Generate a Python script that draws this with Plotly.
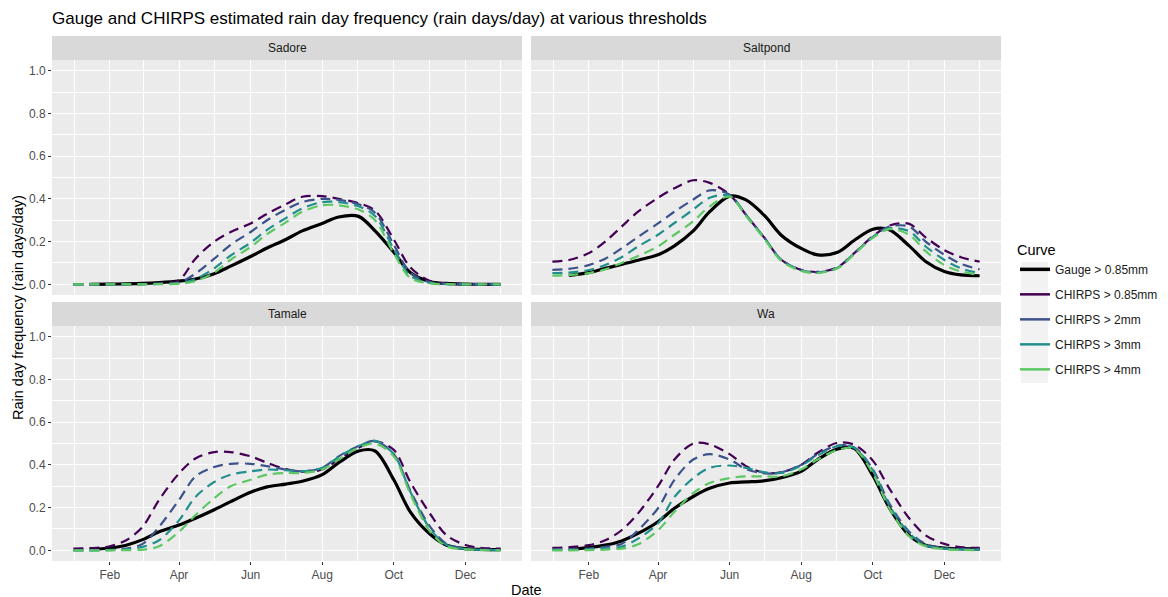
import plotly.graph_objects as go

# The page body has an 8px margin, so the figure is drawn 8px lower/right than the window origin.
OFF = 8
W, H = 1168 - OFF, 597 - OFF

# ---------------- data ----------------
chirps_dates = ["2001-01-01", "2001-01-15", "2001-02-01", "2001-02-15", "2001-03-01", "2001-03-15",
                "2001-04-01", "2001-04-15", "2001-05-01", "2001-05-15", "2001-06-01", "2001-06-15",
                "2001-07-01", "2001-07-15", "2001-08-01", "2001-08-15", "2001-09-01", "2001-09-15",
                "2001-10-01", "2001-10-15", "2001-11-01", "2001-11-15", "2001-12-01", "2001-12-15",
                "2001-12-31"]
gauge_dates = chirps_dates[1:]

stations = ["Sadore", "Saltpond", "Tamale", "Wa"]
curves = ["Gauge > 0.85mm", "CHIRPS > 0.85mm", "CHIRPS > 2mm", "CHIRPS > 3mm", "CHIRPS > 4mm"]

# Sadore
sadore_gauge = [0, 0.001, 0.002, 0.004, 0.008, 0.015, 0.025, 0.05, 0.085, 0.13, 0.17, 0.21, 0.25,
                0.285, 0.315, 0.318, 0.25, 0.15, 0.055, 0.012, 0.004, 0.001, 0, 0]
sadore_c085 = [0, 0, 0, 0, 0.002, 0.005, 0.02, 0.12, 0.2, 0.245, 0.285, 0.33, 0.375, 0.41, 0.413,
               0.4, 0.38, 0.345, 0.21, 0.08, 0.015, 0.003, 0.001, 0, 0]
sadore_c2 = [0, 0, 0, 0, 0.001, 0.003, 0.008, 0.05, 0.12, 0.185, 0.245, 0.3, 0.35, 0.385, 0.4,
             0.395, 0.375, 0.335, 0.185, 0.055, 0.01, 0.002, 0, 0, 0]
sadore_c3 = [0, 0, 0, 0, 0, 0.002, 0.005, 0.025, 0.075, 0.135, 0.195, 0.255, 0.31, 0.355, 0.385,
             0.385, 0.365, 0.32, 0.165, 0.04, 0.006, 0.001, 0, 0, 0]
sadore_c4 = [0, 0, 0, 0, 0, 0.001, 0.003, 0.015, 0.055, 0.115, 0.175, 0.235, 0.29, 0.34, 0.37,
             0.37, 0.35, 0.30, 0.145, 0.03, 0.004, 0.001, 0, 0, 0]

# Saltpond
saltpond_gauge = [0.042, 0.055, 0.075, 0.093, 0.113, 0.138, 0.18, 0.25, 0.34, 0.413, 0.395, 0.32,
                  0.23, 0.168, 0.138, 0.15, 0.205, 0.258, 0.255, 0.18, 0.107, 0.06, 0.044, 0.04]
saltpond_c085 = [0.106, 0.114, 0.146, 0.2, 0.27, 0.34, 0.405, 0.45, 0.487, 0.475, 0.42, 0.325,
                 0.215, 0.115, 0.068, 0.058, 0.08, 0.145, 0.225, 0.275, 0.283, 0.22, 0.16, 0.127, 0.106]
saltpond_c2 = [0.068, 0.072, 0.09, 0.12, 0.168, 0.222, 0.285, 0.34, 0.397, 0.44, 0.42, 0.325,
               0.215, 0.115, 0.066, 0.056, 0.078, 0.143, 0.222, 0.27, 0.27, 0.2, 0.138, 0.096, 0.07]
saltpond_c3 = [0.052, 0.055, 0.067, 0.09, 0.127, 0.177, 0.232, 0.287, 0.35, 0.405, 0.415, 0.322,
               0.213, 0.113, 0.065, 0.055, 0.077, 0.142, 0.22, 0.262, 0.248, 0.177, 0.114, 0.075, 0.052]
saltpond_c4 = [0.04, 0.043, 0.052, 0.07, 0.1, 0.133, 0.177, 0.232, 0.295, 0.365, 0.41, 0.32,
               0.21, 0.11, 0.063, 0.053, 0.075, 0.14, 0.218, 0.258, 0.232, 0.155, 0.09, 0.06, 0.044]

# Tamale
tamale_gauge = [0.005, 0.011, 0.024, 0.05, 0.087, 0.118, 0.15, 0.19, 0.228, 0.272, 0.297, 0.31,
                0.323, 0.354, 0.41, 0.465, 0.465, 0.33, 0.18, 0.075, 0.024, 0.008, 0.004, 0.003]
tamale_c085 = [0.008, 0.01, 0.019, 0.047, 0.11, 0.236, 0.36, 0.43, 0.46, 0.46, 0.44, 0.41, 0.38,
               0.368, 0.378, 0.425, 0.48, 0.51, 0.47, 0.32, 0.17, 0.07, 0.025, 0.011, 0.008]
tamale_c2 = [0.001, 0.001, 0.002, 0.008, 0.03, 0.11, 0.236, 0.346, 0.39, 0.405, 0.405, 0.394,
             0.378, 0.37, 0.386, 0.44, 0.488, 0.512, 0.45, 0.28, 0.11, 0.03, 0.008, 0.003, 0.002]
tamale_c3 = [0, 0, 0.001, 0.004, 0.016, 0.047, 0.14, 0.25, 0.32, 0.354, 0.37, 0.378, 0.375, 0.37,
             0.386, 0.437, 0.488, 0.512, 0.45, 0.275, 0.1, 0.025, 0.006, 0.002, 0.001]
tamale_c4 = [0, 0, 0, 0.001, 0.003, 0.019, 0.087, 0.165, 0.244, 0.3, 0.33, 0.354, 0.362, 0.362,
             0.378, 0.425, 0.48, 0.5, 0.44, 0.265, 0.087, 0.019, 0.004, 0.001, 0]

# Wa
wa_gauge = [0.005, 0.013, 0.024, 0.044, 0.079, 0.134, 0.197, 0.252, 0.29, 0.315, 0.32, 0.326, 0.34,
            0.37, 0.425, 0.475, 0.478, 0.35, 0.2, 0.07, 0.024, 0.011, 0.008, 0.007]
wa_c085 = [0.011, 0.015, 0.024, 0.047, 0.094, 0.173, 0.3, 0.425, 0.5, 0.496, 0.45, 0.394, 0.362,
           0.365, 0.4, 0.457, 0.504, 0.495, 0.42, 0.29, 0.15, 0.07, 0.03, 0.015, 0.011]
wa_c2 = [0.005, 0.005, 0.008, 0.016, 0.03, 0.094, 0.197, 0.33, 0.425, 0.45, 0.425, 0.38, 0.36,
         0.365, 0.4, 0.45, 0.49, 0.482, 0.38, 0.22, 0.087, 0.03, 0.01, 0.006, 0.005]
wa_c3 = [0.002, 0.002, 0.004, 0.008, 0.016, 0.055, 0.126, 0.25, 0.338, 0.386, 0.397, 0.386, 0.365,
         0.362, 0.397, 0.444, 0.488, 0.48, 0.375, 0.21, 0.08, 0.024, 0.008, 0.004, 0.003]
wa_c4 = [0, 0, 0.001, 0.003, 0.008, 0.028, 0.094, 0.18, 0.268, 0.315, 0.338, 0.346, 0.346, 0.346,
         0.378, 0.425, 0.47, 0.476, 0.36, 0.197, 0.066, 0.019, 0.005, 0.002, 0]

station_data = {
    "Sadore": [sadore_gauge, sadore_c085, sadore_c2, sadore_c3, sadore_c4],
    "Saltpond": [saltpond_gauge, saltpond_c085, saltpond_c2, saltpond_c3, saltpond_c4],
    "Tamale": [tamale_gauge, tamale_c085, tamale_c2, tamale_c3, tamale_c4],
    "Wa": [wa_gauge, wa_c085, wa_c2, wa_c3, wa_c4],
}

x_tick_vals = ["2001-02-01", "2001-04-01", "2001-06-01", "2001-08-01", "2001-10-01", "2001-12-01"]
x_tick_text = ["Feb", "Apr", "Jun", "Aug", "Oct", "Dec"]
x_minor_vals = ["2001-01-02", "2001-03-02", "2001-05-01", "2001-07-01", "2001-08-31", "2001-10-31", "2001-12-31"]
y_tick_vals = [0, 0.2, 0.4, 0.6, 0.8, 1.0]
y_tick_text = ["0.0", "0.2", "0.4", "0.6", "0.8", "1.0"]
y_minor_vals = [0.1, 0.3, 0.5, 0.7, 0.9]

# ---------------- styles ----------------
colors = ["#000000", "#440154", "#3B528B", "#21908C", "#5DC863"]
widths = [3.2, 2.2, 2.2, 2.2, 2.2]
dashes = ["solid", "10px,6px", "10px,6px", "10px,6px", "10px,6px"]
FONT = "Liberation Sans, Arial, sans-serif"

# panel geometry in window pixels (reference coordinates)
px_x = [(52, 522), (531, 1001)]
px_y = [(60, 295), (326, 561)]
strip_h = 24


def PX(x):
    return (x - OFF) / W


def PY(y):
    return 1 - (y - OFF) / H


fig = go.Figure()

x_range = ["2000-12-13 19:00", "2002-01-18 05:00"]
y_range = [-0.05, 1.05]

# legend entries (solid keys, as in the reference legend)
for k, cname in enumerate(curves):
    fig.add_trace(go.Scatter(
        x=[None], y=[None], mode="lines", name=cname, legendgroup=cname, showlegend=True,
        line=dict(color=colors[k], width=widths[k] + 0.3),
        xaxis="x", yaxis="y", hoverinfo="skip"))

for i, st in enumerate(stations):
    r, c = divmod(i, 2)
    ax = "" if i == 0 else str(i + 1)
    for k, cname in enumerate(curves):
        xs = gauge_dates if k == 0 else chirps_dates
        fig.add_trace(go.Scatter(
            x=xs, y=station_data[st][k], mode="lines", name=cname,
            legendgroup=cname, showlegend=False,
            line=dict(color=colors[k], width=widths[k], dash=dashes[k], shape="spline", smoothing=0.9),
            xaxis="x" + ax, yaxis="y" + ax, hoverinfo="skip"))

    bottom = (r == 1)
    left = (c == 0)
    fig.layout["xaxis" + ax] = dict(
        domain=[PX(px_x[c][0]), PX(px_x[c][1])], range=x_range, type="date", anchor="y" + ax,
        tickmode="array", tickvals=x_tick_vals, ticktext=x_tick_text,
        showticklabels=bottom, ticks="outside" if bottom else "", ticklen=3,
        tickcolor="#333333", tickwidth=1,
        tickfont=dict(family=FONT, size=12, color="#4D4D4D"),
        showgrid=True, gridcolor="#FFFFFF", gridwidth=1.1, zeroline=False, showline=False,
        minor=dict(tickmode="array", tickvals=x_minor_vals, showgrid=True,
                   gridcolor="#FFFFFF", gridwidth=0.5, ticks=""),
        automargin=False, fixedrange=True)
    fig.layout["yaxis" + ax] = dict(
        domain=[PY(px_y[r][1]), PY(px_y[r][0])], range=y_range, anchor="x" + ax,
        tickmode="array", tickvals=y_tick_vals, ticktext=y_tick_text,
        showticklabels=left, ticks="outside" if left else "", ticklen=3,
        tickcolor="#333333", tickwidth=1,
        tickfont=dict(family=FONT, size=12, color="#4D4D4D"),
        showgrid=True, gridcolor="#FFFFFF", gridwidth=1.1, zeroline=False, showline=False,
        minor=dict(tickmode="array", tickvals=y_minor_vals, showgrid=True,
                   gridcolor="#FFFFFF", gridwidth=0.5, ticks=""),
        automargin=False, fixedrange=True)

shapes = []
annotations = []
for i, st in enumerate(stations):
    r, c = divmod(i, 2)
    x0, x1 = px_x[c]
    ytop, ybot = px_y[r]
    shapes.append(dict(type="rect", xref="paper", yref="paper", layer="below",
                       x0=PX(x0), x1=PX(x1), y0=PY(ybot), y1=PY(ytop),
                       fillcolor="#EBEBEB", line=dict(width=0)))
    shapes.append(dict(type="rect", xref="paper", yref="paper", layer="below",
                       x0=PX(x0), x1=PX(x1), y0=PY(ytop), y1=PY(ytop - strip_h),
                       fillcolor="#D9D9D9", line=dict(width=0)))
    annotations.append(dict(text=st, xref="paper", yref="paper", showarrow=False,
                            x=PX((x0 + x1) / 2), y=PY(ytop - strip_h / 2),
                            xanchor="center", yanchor="middle",
                            font=dict(family=FONT, size=12, color="#1A1A1A")))

# legend key background
shapes.append(dict(type="rect", xref="paper", yref="paper", layer="below",
                   x0=PX(1021), x1=PX(1048), y0=PY(383), y1=PY(262),
                   fillcolor="#F2F2F2", line=dict(width=0)))

annotations.append(dict(text="Date", xref="paper", yref="paper", showarrow=False,
                        x=PX((52 + 1001) / 2), y=PY(590), xanchor="center", yanchor="middle",
                        font=dict(family=FONT, size=14.5, color="#000000")))
annotations.append(dict(text="Rain day frequency (rain days/day)", xref="paper", yref="paper",
                        showarrow=False, textangle=-90,
                        x=PX(18), y=PY(308), xanchor="center", yanchor="middle",
                        font=dict(family=FONT, size=14.5, color="#000000")))

fig.update_layout(
    width=W, height=H, autosize=False,
    margin=dict(l=0, r=0, t=0, b=0),
    paper_bgcolor="#FFFFFF", plot_bgcolor="rgba(0,0,0,0)",
    title=dict(text="Gauge and CHIRPS estimated rain day frequency (rain days/day) at various thresholds",
               x=PX(52), xanchor="left", y=PY(18), yanchor="middle",
               font=dict(family=FONT, size=17, color="#000000")),
    shapes=shapes, annotations=annotations,
    legend=dict(x=PX(1015), y=PY(236), xanchor="left", yanchor="top",
                title=dict(text="Curve", font=dict(family=FONT, size=14.5, color="#000000")),
                font=dict(family=FONT, size=12, color="#1A1A1A"),
                bgcolor="rgba(0,0,0,0)", itemwidth=30, tracegroupgap=6,
                traceorder="grouped"),
    showlegend=True,
)

fig.write_html("out.html")
